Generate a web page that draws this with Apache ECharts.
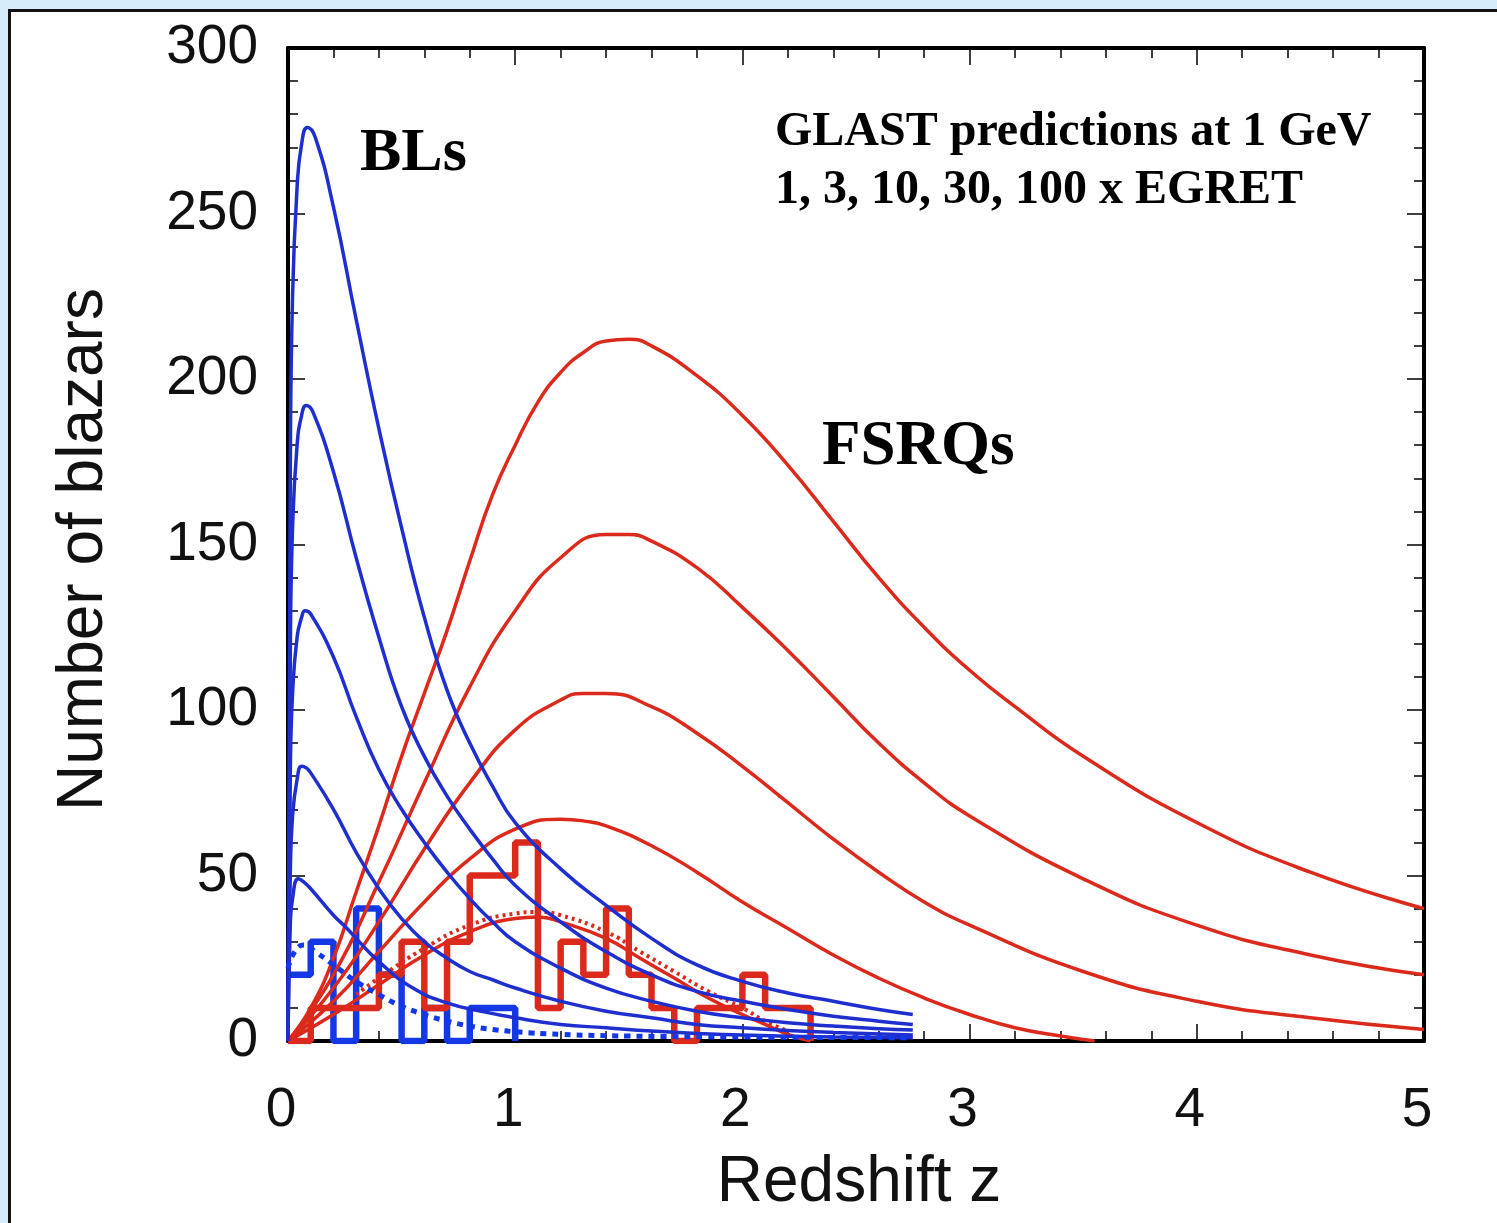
<!DOCTYPE html>
<html>
<head>
<meta charset="utf-8">
<script src="https://cdn.jsdelivr.net/npm/echarts@6/dist/echarts.min.js"></script>
<style>
  html, body { margin: 0; padding: 0; background: #d7ecfb; overflow: hidden; }
  #frame { position: absolute; left: 8px; top: 9px; width: 2000px; height: 2000px; background: #fff; border: 3px solid #111; }
  #chart { position: absolute; left: 0; top: 0; width: 1497px; height: 1223px; }
</style>
</head>
<body>
<div id="frame"></div>
<div id="chart"></div>
<script>
// ---------- data ----------
const xTicks = [0, 1, 2, 3, 4, 5];
const yTicks = [0, 50, 100, 150, 200, 250, 300];
const binWidth = 0.1;

// BL Lac model curves: [z, N]
const blCurve1 = [[0,0],[0.01,170],[0.02,225],[0.04,258],[0.06,271],[0.085,276],[0.12,273],[0.2,252],[0.3,218],[0.4,185],[0.5,155],[0.6,128],[0.7,106],[0.8,90],[0.9,77],[1.0,66],[1.2,52],[1.4,41],[1.6,31],[1.8,23],[2.0,18],[2.2,14.5],[2.4,12],[2.6,9.5],[2.75,8]];
const blCurve2 = [[0,0],[0.01,115],[0.02,155],[0.04,180],[0.06,189],[0.08,192],[0.11,190],[0.2,172],[0.3,146],[0.4,122],[0.5,101],[0.6,86],[0.7,74],[0.8,64],[0.9,55],[1.0,47],[1.2,36],[1.4,27],[1.6,20],[1.8,15],[2.0,12],[2.2,9.5],[2.4,7.5],[2.6,6],[2.75,5]];
const blCurve3 = [[0,0],[0.01,80],[0.02,105],[0.04,122],[0.06,128],[0.075,130],[0.1,129],[0.2,116],[0.3,98],[0.4,82],[0.5,70],[0.6,60],[0.7,51],[0.8,43],[0.9,36],[1.0,30],[1.2,22],[1.4,16],[1.6,12],[1.8,9],[2.0,7],[2.2,5.5],[2.4,4.5],[2.6,3.7],[2.75,3.3]];
const blCurve4 = [[0,0],[0.01,50],[0.02,68],[0.04,79],[0.06,83],[0.08,82.5],[0.1,81],[0.2,70],[0.3,57],[0.4,46],[0.5,37],[0.6,30],[0.7,25],[0.8,21],[0.9,18.5],[1.0,16],[1.2,12],[1.4,9],[1.6,7],[1.8,5],[2.0,4],[2.2,3.2],[2.4,2.6],[2.75,1.8]];
const blCurve5 = [[0,0],[0.01,35],[0.02,43],[0.045,49],[0.07,48],[0.1,46],[0.2,38],[0.26,34],[0.3,31],[0.4,24],[0.55,16],[0.7,11.5],[0.85,9],[1.0,7],[1.2,5],[1.4,4],[1.6,3],[1.8,2.3],[2.0,1.8],[2.4,1.2],[2.75,1]];
const blDotted = [[0,22],[0.03,27],[0.07,29],[0.12,27],[0.2,23],[0.3,18],[0.4,14],[0.5,10.5],[0.6,8],[0.7,6],[0.8,4.5],[0.9,3.5],[1.0,2.8],[1.2,2],[1.5,1.5],[2.0,1.2],[2.75,1]];

// FSRQ model curves: [z, N]
const fsrqCurve1 = [[0,0],[0.1,10],[0.2,25],[0.3,45],[0.4,65],[0.5,86],[0.6,105],[0.7,124],[0.8,145],[0.9,165],[1.0,180],[1.1,193],[1.2,202],[1.3,208],[1.4,211.5],[1.5,212],[1.6,210],[1.8,201],[2.0,189],[2.2,174],[2.4,157],[2.6,140],[2.8,125],[3.0,112],[3.2,101],[3.5,86],[4.0,66],[4.5,51],[5.0,40]];
const fsrqCurve2 = [[0,0],[0.2,20],[0.4,48],[0.6,78],[0.8,107],[1.0,130],[1.2,146],[1.4,153],[1.5,153],[1.6,151],[1.8,143],[2.0,131],[2.2,118],[2.4,104],[2.6,90],[2.8,78],[3.0,68],[3.5,49],[4.0,35],[4.5,26],[5.0,20]];
const fsrqCurve3 = [[0,0],[0.2,16],[0.4,36],[0.6,58],[0.8,78],[1.0,94],[1.2,103],[1.3,105],[1.4,105],[1.6,101],[1.8,93],[2.0,83],[2.2,72],[2.4,61],[2.6,51],[2.8,42],[3.0,35],[3.5,21],[4.0,12],[4.5,7],[5.0,3.5]];
const fsrqCurve4 = [[0,0],[0.2,12],[0.4,27],[0.6,42],[0.8,55],[1.0,64],[1.2,67],[1.3,66.5],[1.4,65],[1.6,59],[1.8,51],[2.0,42],[2.2,34],[2.4,26],[2.6,19],[2.8,13],[3.0,8],[3.2,4],[3.4,1.5],[3.55,0]];
const fsrqCurve5 = [[0,0],[0.2,8],[0.4,17],[0.6,26],[0.8,33],[1.0,37],[1.1,37.5],[1.2,36],[1.4,31],[1.55,25],[1.7,19],[1.85,13],[2.0,8],[2.1,5],[2.2,2],[2.3,0]];
const fsrqDotted = [[0.3,14],[0.4,19],[0.6,28],[0.8,35],[1.0,38.5],[1.1,39],[1.2,38],[1.4,33],[1.55,27],[1.7,21],[1.85,15],[2.0,10],[2.1,6],[2.2,3]];

// Observed histograms (bin width 0.1 starting at z = 0)
const blHistCounts   = [20, 30, 0, 40, 20, 0, 10, 0, 10, 10];
const fsrqHistCounts = [0, 10, 10, 10, 20, 30, 10, 30, 50, 50, 60, 10, 30, 20, 40, 20, 10, 0, 10, 10, 20, 10, 10];

// ---------- build ----------
function histPoints(counts) {
  const pts = counts.map((c, i) => [+(i * binWidth).toFixed(2), c]);
  pts.push([+(counts.length * binWidth).toFixed(2), 0]);
  return pts;
}

const BLUE = '#1f2fcf';
const BLUE_H = '#1438e6';
const RED = '#db2a1c';

function curve(data, color, width, type) {
  return {
    type: 'line', data: data, showSymbol: false, symbol: 'none',
    smooth: 0.5, animation: false, silent: true,
    lineStyle: { color: color, width: width, type: type || 'solid' },
    z: 3
  };
}

const chart = echarts.init(document.getElementById('chart'), null, { renderer: 'canvas' });

const axisCommon = {
  type: 'value',
  axisLine: { show: true, onZero: false, lineStyle: { color: '#000', width: 4 } },
  axisTick: { show: true, inside: true, length: 17, lineStyle: { color: '#000', width: 1.5 } },
  minorTick: { show: true, splitNumber: 5, length: 10, lineStyle: { color: '#000', width: 1.5 } },
  splitLine: { show: false },
  minorSplitLine: { show: false }
};

const labelStyle = { color: '#111', fontFamily: 'Liberation Sans, Arial, sans-serif', fontSize: 55 };
const nameStyle = { color: '#111', fontFamily: 'Liberation Sans, Arial, sans-serif', fontSize: 64 };

const option = {
  animation: false,
  backgroundColor: 'transparent',
  grid: { left: 288, right: 73, top: 48, bottom: 182, containLabel: false, outerBoundsMode: 'none' },
  xAxis: [
    Object.assign({}, axisCommon, {
      position: 'bottom', min: xTicks[0], max: xTicks[xTicks.length - 1], interval: 1,
      axisLabel: Object.assign({ margin: 42, padding: [0, 14, 0, 0] }, labelStyle),
      name: 'Redshift z', nameLocation: 'middle', nameGap: 110,
      nameTextStyle: Object.assign({ padding: [0, 0, 0, 6] }, nameStyle)
    }),
    Object.assign({}, axisCommon, {
      position: 'top', min: xTicks[0], max: xTicks[xTicks.length - 1], interval: 1,
      axisLabel: { show: false }
    })
  ],
  yAxis: [
    Object.assign({}, axisCommon, {
      position: 'left', min: yTicks[0], max: yTicks[yTicks.length - 1], interval: 50,
      axisLabel: Object.assign({ margin: 30, padding: [0, 0, 4, 0] }, labelStyle),
      name: 'Number of blazars', nameLocation: 'middle', nameGap: 172, nameRotate: 90,
      nameTextStyle: Object.assign({ padding: [0, 10, 0, 0] }, nameStyle)
    }),
    Object.assign({}, axisCommon, {
      position: 'right', min: yTicks[0], max: yTicks[yTicks.length - 1], interval: 50,
      axisLabel: { show: false }
    })
  ],
  series: [
    { type: 'line', data: histPoints(blHistCounts), step: 'end', showSymbol: false, symbol: 'none',
      lineStyle: { color: BLUE_H, width: 6.5 }, z: 2, silent: true },
    curve(fsrqCurve1, RED, 3.5), curve(fsrqCurve2, RED, 3.5), curve(fsrqCurve3, RED, 3.5),
    curve(fsrqCurve4, RED, 3.5), curve(fsrqCurve5, RED, 3.5),
    { type: 'line', data: histPoints(fsrqHistCounts), step: 'end', showSymbol: false, symbol: 'none',
      lineStyle: { color: RED, width: 6.5 }, z: 4, silent: true },
    Object.assign(curve(fsrqDotted, RED, 4, [3, 4]), { z: 5 }),
    Object.assign(curve(blCurve1, BLUE, 3.5), { z: 6 }),
    Object.assign(curve(blCurve2, BLUE, 3.5), { z: 6 }),
    Object.assign(curve(blCurve3, BLUE, 3.5), { z: 6 }),
    Object.assign(curve(blCurve4, BLUE, 3.5), { z: 6 }),
    Object.assign(curve(blCurve5, BLUE, 3.5), { z: 6 }),
    Object.assign(curve(blDotted, BLUE_H, 5, [6, 6]), { z: 7 })
  ],
  graphic: [
    { type: 'text', left: 360, top: 123, z: 10,
      style: { text: 'BLs', font: 'bold 62px "Liberation Serif", "Times New Roman", serif', fill: '#000' } },
    { type: 'text', left: 822, top: 416, z: 10,
      style: { text: 'FSRQs', font: 'bold 63px "Liberation Serif", "Times New Roman", serif', fill: '#000' } },
    { type: 'text', left: 775, top: 109, z: 10,
      style: { text: 'GLAST predictions at 1 GeV', font: 'bold 48px "Liberation Serif", "Times New Roman", serif', fill: '#000' } },
    { type: 'text', left: 775, top: 167, z: 10,
      style: { text: '1, 3, 10, 30, 100 x EGRET', font: 'bold 48px "Liberation Serif", "Times New Roman", serif', fill: '#000' } }
  ]
};
chart.setOption(option);
</script>
</body>
</html>
